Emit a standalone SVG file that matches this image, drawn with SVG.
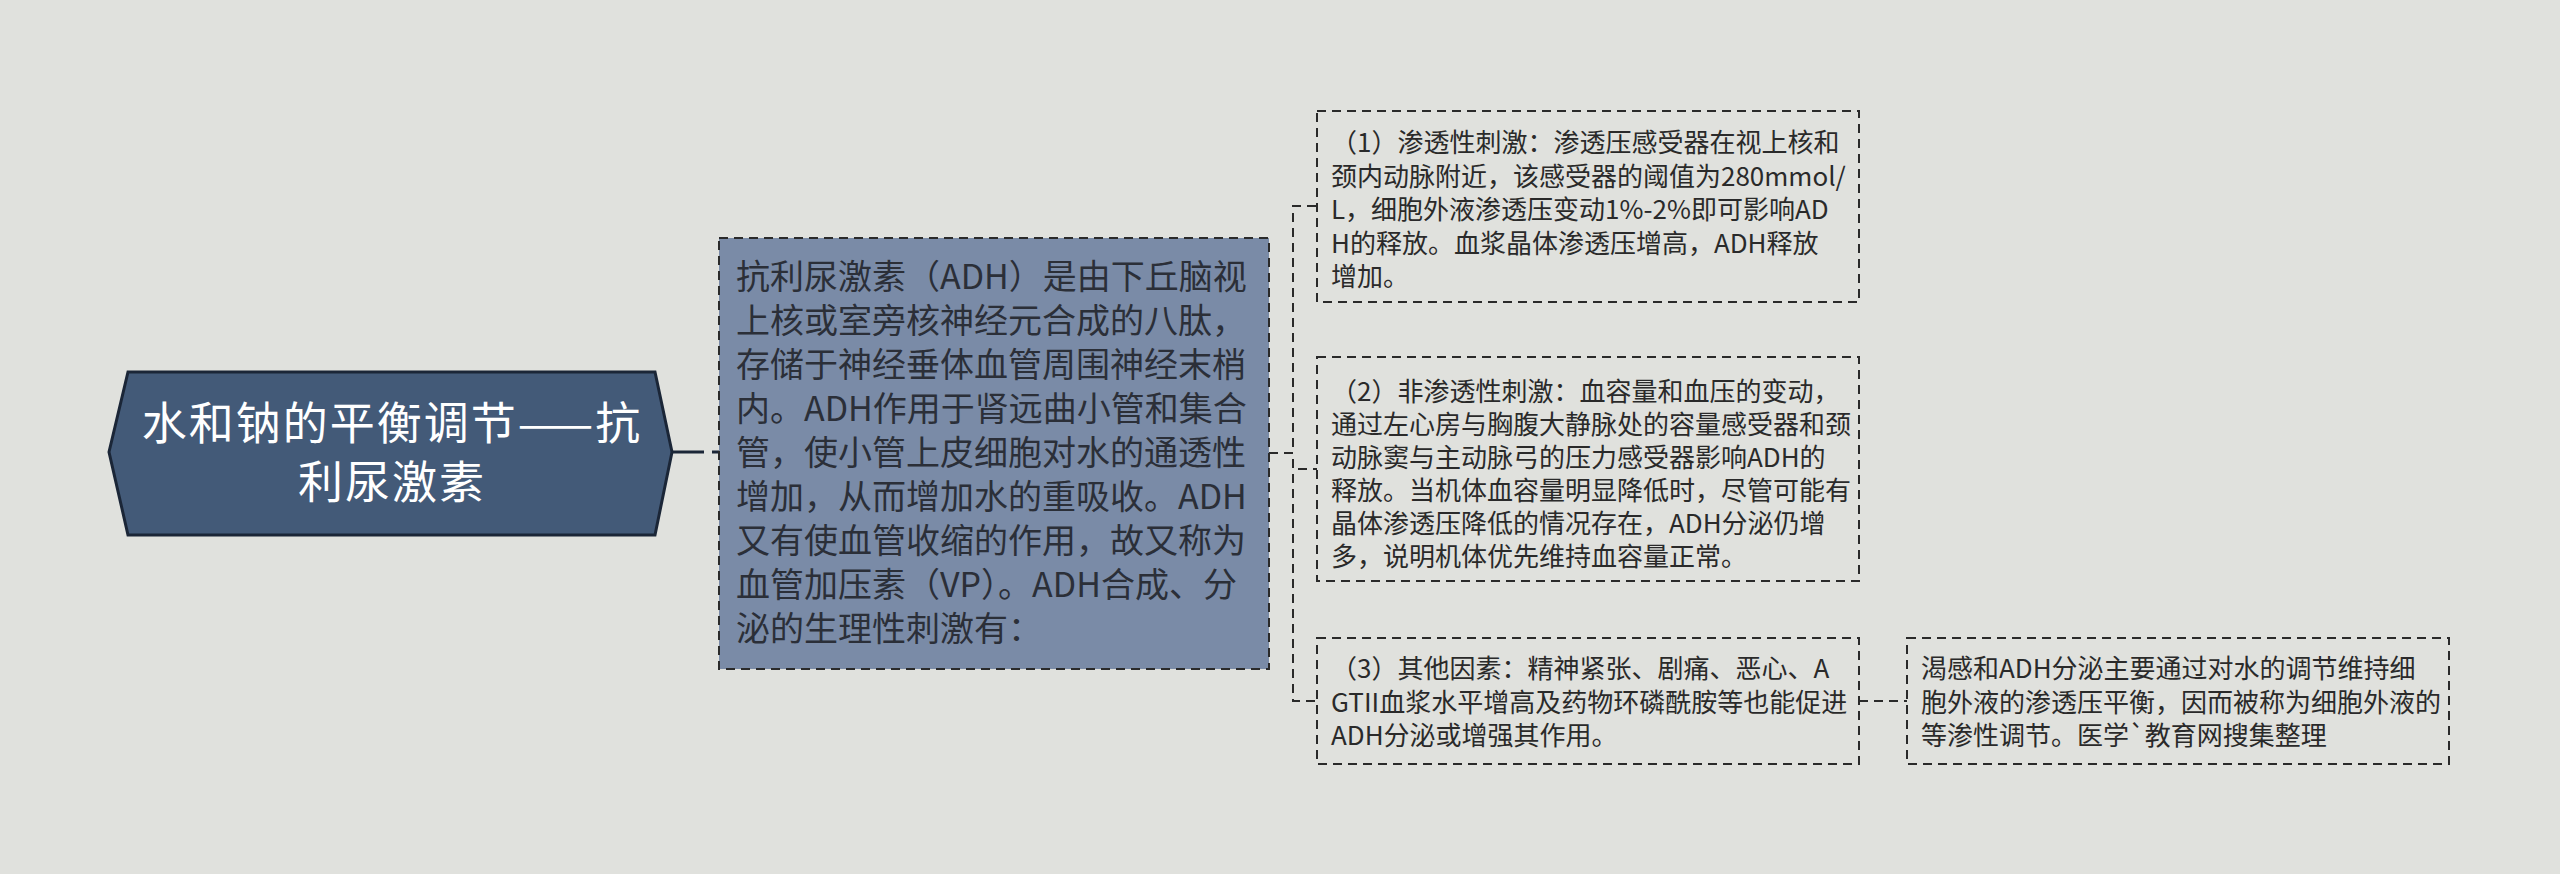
<svg xmlns="http://www.w3.org/2000/svg" width="2560" height="874" viewBox="0 0 2560 874">
<style>
text{font-family:"Noto Sans CJK SC","Noto Sans",sans-serif;}
.root{font-size:45px;fill:#ffffff;text-anchor:middle;letter-spacing:2px;}
.adh{font-size:34px;fill:#2b2f38;}
.t{font-size:26px;fill:#2a2a2a;}
.box{fill:none;stroke:#2a2a2a;stroke-width:2;stroke-dasharray:9 6;}
.con{fill:none;stroke:#2a2a2a;stroke-width:2;stroke-dasharray:9 6;}
</style>
<rect x="0" y="0" width="2560" height="874" fill="#e0e1dd"/>
<g id="connectors">
<path d="M672 452 H719" fill="none" stroke="#1b2637" stroke-width="3" stroke-dasharray="32 8"/>
<path class="con" d="M1269 453 H1293 V206 H1317"/>
<path class="con" d="M1269 453 H1293 V469 H1317"/>
<path class="con" d="M1269 453 H1293 V701 H1317"/>
<path class="con" d="M1859 701 H1907"/>
</g>
<g id="root">
<polygon points="109,452 128,372 655,372 672,452 655,535 128,535" fill="#435a78" stroke="#1b2637" stroke-width="3"/>
<text class="root" x="392" y="440">水和钠的平衡调节——抗</text>
<text class="root" x="392" y="499">利尿激素</text>
</g>
<g id="adh">
<rect x="719" y="238" width="550" height="431" fill="#7a8ba7" stroke="#2a2a2a" stroke-width="2" stroke-dasharray="9 6"/>
<text class="adh" x="736" y="289">抗利尿激素（ADH）是由下丘脑视</text>
<text class="adh" x="736" y="333">上核或室旁核神经元合成的八肽，</text>
<text class="adh" x="736" y="377">存储于神经垂体血管周围神经末梢</text>
<text class="adh" x="736" y="421">内。ADH作用于肾远曲小管和集合</text>
<text class="adh" x="736" y="465">管，使小管上皮细胞对水的通透性</text>
<text class="adh" x="736" y="509">增加，从而增加水的重吸收。ADH</text>
<text class="adh" x="736" y="553">又有使血管收缩的作用，故又称为</text>
<text class="adh" x="736" y="597">血管加压素（VP）。ADH合成、分</text>
<text class="adh" x="736" y="641">泌的生理性刺激有：</text>
</g>
<g id="n1">
<rect class="box" x="1317" y="111" width="542" height="191"/>
<text class="t" x="1331" y="152">（1）渗透性刺激：渗透压感受器在视上核和</text>
<text class="t" x="1331" y="185.5">颈内动脉附近，该感受器的阈值为280mmol/</text>
<text class="t" x="1331" y="219">L，细胞外液渗透压变动1%-2%即可影响AD</text>
<text class="t" x="1331" y="252.5">H的释放。血浆晶体渗透压增高，ADH释放</text>
<text class="t" x="1331" y="286">增加。</text>
</g>
<g id="n2">
<rect class="box" x="1317" y="357" width="542" height="224"/>
<text class="t" x="1331" y="401">（2）非渗透性刺激：血容量和血压的变动，</text>
<text class="t" x="1331" y="434">通过左心房与胸腹大静脉处的容量感受器和颈</text>
<text class="t" x="1331" y="467">动脉窦与主动脉弓的压力感受器影响ADH的</text>
<text class="t" x="1331" y="500">释放。当机体血容量明显降低时，尽管可能有</text>
<text class="t" x="1331" y="533">晶体渗透压降低的情况存在，ADH分泌仍增</text>
<text class="t" x="1331" y="566">多，说明机体优先维持血容量正常。</text>
</g>
<g id="n3">
<rect class="box" x="1317" y="638" width="542" height="126"/>
<text class="t" x="1331" y="678">（3）其他因素：精神紧张、剧痛、恶心、A</text>
<text class="t" x="1331" y="712">GTII血浆水平增高及药物环磷酰胺等也能促进</text>
<text class="t" x="1331" y="745">ADH分泌或增强其作用。</text>
</g>
<g id="n4">
<rect class="box" x="1907" y="638" width="542" height="126"/>
<text class="t" x="1921" y="678">渴感和ADH分泌主要通过对水的调节维持细</text>
<text class="t" x="1921" y="712">胞外液的渗透压平衡，因而被称为细胞外液的</text>
<text class="t" x="1921" y="745">等渗性调节。医学`教育网搜集整理</text>
</g>
</svg>
